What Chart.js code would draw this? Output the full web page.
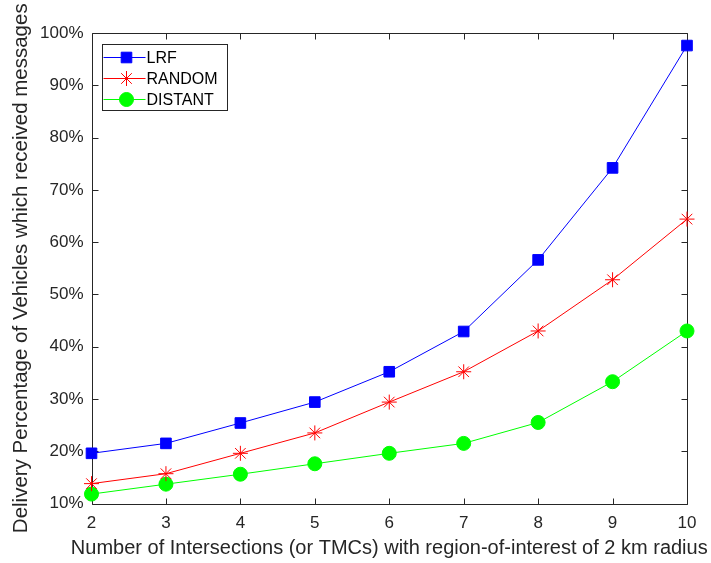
<!DOCTYPE html>
<html>
<head>
<meta charset="utf-8">
<script src="https://cdn.jsdelivr.net/npm/chart.js@4/dist/chart.umd.min.js"></script>
<style>
  html, body { margin: 0; padding: 0; background: #fff; }
  #wrap { width: 711px; height: 563px; position: relative; }
</style>
</head>
<body>
<div id="wrap"><canvas id="c" width="711" height="563"></canvas></div>
<script>
const categories = ['2', '3', '4', '5', '6', '7', '8', '9', '10'];
const yTicks = [10, 20, 30, 40, 50, 60, 70, 80, 90, 100];
const lrf      = [19.6, 21.5, 25.4, 29.4, 35.2, 42.9, 56.6, 74.2, 97.6];
const random   = [13.8, 15.7, 19.6, 23.5, 29.4, 35.2, 43.0, 52.8, 64.4];
const distant  = [11.8, 13.7, 15.6, 17.6, 19.6, 21.5, 25.5, 33.3, 43.0];
const seriesLabels = ['LRF', 'RANDOM', 'DISTANT'];
const xTitle = 'Number of Intersections (or TMCs) with region-of-interest of 2 km radius';
const yTitle = 'Delivery Percentage of Vehicles which received messages';

const AXIS = '#262626';
const FONT = "'Liberation Sans', Arial, sans-serif";

const boxPlugin = {
  id: 'matlabBox',
  beforeDatasetsDraw(chart) {
    const { ctx, chartArea: a, scales } = chart;
    ctx.save();
    ctx.strokeStyle = AXIS;
    ctx.lineWidth = 1;
    const L = Math.round(a.left) + 0.5, R = Math.round(a.right) + 0.5;
    const T = Math.round(a.top) + 0.5, B = Math.round(a.bottom) + 0.5;
    ctx.beginPath();
    ctx.rect(L, T, R - L, B - T);
    ctx.stroke();
    const tl = 6;
    ctx.beginPath();
    categories.forEach((c, i) => {
      const x = Math.round(scales.x.getPixelForValue(i)) + 0.5;
      ctx.moveTo(x, B); ctx.lineTo(x, B - tl);
      ctx.moveTo(x, T); ctx.lineTo(x, T + tl);
    });
    yTicks.forEach(v => {
      const y = Math.round(scales.y.getPixelForValue(v)) + 0.5;
      ctx.moveTo(L, y); ctx.lineTo(L + tl, y);
      ctx.moveTo(R, y); ctx.lineTo(R - tl, y);
    });
    ctx.stroke();
    // x-axis title (drawn without width limit so it may extend past the plot like the original)
    ctx.fillStyle = AXIS;
    ctx.font = '20px ' + FONT;
    ctx.textAlign = 'center';
    ctx.textBaseline = 'middle';
    ctx.fillText(xTitle, (a.left + a.right) / 2, 548);
    ctx.restore();
  },
  afterDatasetsDraw(chart) {
    const { ctx, chartArea: a } = chart;
    const bx = Math.round(a.left + 10) + 0.5, by = Math.round(a.top + 11) + 0.5;
    const bw = 125, bh = 66;
    ctx.save();
    ctx.fillStyle = '#fff';
    ctx.fillRect(bx, by, bw, bh);
    ctx.strokeStyle = AXIS;
    ctx.lineWidth = 1;
    ctx.strokeRect(bx, by, bw, bh);
    ctx.font = '16px ' + FONT;
    ctx.textBaseline = 'middle';
    chart.data.datasets.forEach((ds, i) => {
      const y = by + 13 + i * 21;
      ctx.strokeStyle = ds.borderColor;
      ctx.lineWidth = 1;
      ctx.beginPath();
      ctx.moveTo(bx + 1, y); ctx.lineTo(bx + 43, y);
      ctx.stroke();
      ctx.fillStyle = ds.pointBackgroundColor;
      ctx.strokeStyle = ds.pointBorderColor;
      Chart.helpers.drawPoint(ctx, {
        pointStyle: ds.pointStyle, radius: ds.pointRadius, rotation: 0, borderWidth: 1
      }, bx + 24, y);
      ctx.fillStyle = '#000';
      ctx.fillText(ds.label, bx + 44, y + 1);
    });
    ctx.restore();
  }
};

const mk = (label, data, color, style, r) => ({
  label, data,
  borderColor: color, backgroundColor: color,
  pointBackgroundColor: color, pointBorderColor: color,
  pointStyle: style, pointRadius: r, pointHoverRadius: r,
  pointBorderWidth: 1, borderWidth: 1, tension: 0, fill: false
});

new Chart(document.getElementById('c'), {
  type: 'line',
  data: {
    labels: categories,
    datasets: [
      mk(seriesLabels[0], lrf, '#0000ff', 'rect', 7.5),
      mk(seriesLabels[1], random, '#ff0000', 'star', 7.5),
      mk(seriesLabels[2], distant, '#00ff00', 'circle', 7)
    ]
  },
  options: {
    responsive: false,
    animation: false,
    devicePixelRatio: 1,
    layout: { padding: { top: 33, right: 24, left: 0, bottom: 0 } },
    plugins: { legend: { display: false }, tooltip: { enabled: false } },
    scales: {
      x: {
        type: 'category',
        offset: false,
        grid: { display: false, drawTicks: false },
        border: { display: false },
        ticks: { color: AXIS, font: { family: FONT, size: 17 }, padding: 10, maxRotation: 0, autoSkip: false },
        title: { display: false },
        afterFit(s) { s.height = 59.5; }
      },
      y: {
        min: 10, max: 100,
        grid: { display: false, drawTicks: false },
        border: { display: false },
        afterBuildTicks(s) { s.ticks = yTicks.map(v => ({ value: v })); },
        ticks: { color: AXIS, font: { family: FONT, size: 17 }, padding: 8, callback: v => v + '%' },
        title: { display: true, text: yTitle, color: AXIS, font: { family: FONT, size: 20.5 }, padding: { top: 9.5, bottom: 0 } },
        afterFit(s) { s.width = 91.5; }
      }
    }
  },
  plugins: [boxPlugin]
});
</script>
</body>
</html>
